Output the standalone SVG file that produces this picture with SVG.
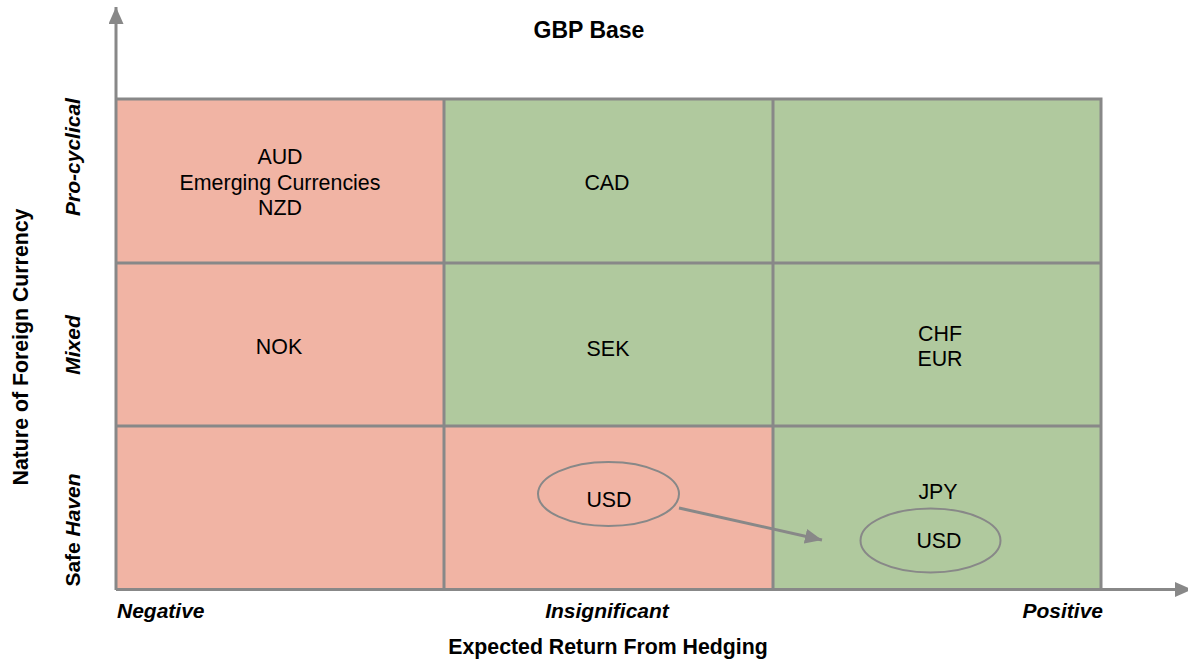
<svg xmlns="http://www.w3.org/2000/svg" width="1188" height="665" viewBox="0 0 1188 665">
  <style>
    text { font-family: "Liberation Sans", Arial, sans-serif; fill: #000; }
    .cell-text { font-size: 21.4px; text-anchor: middle; }
    .title { font-size: 23px; font-weight: bold; text-anchor: middle; }
    .axis-title { font-size: 21.3px; font-weight: bold; text-anchor: middle; }
    .tick { font-size: 21px; font-weight: bold; font-style: italic; }
    .neg { fill: #f1b4a4; }
    .pos { fill: #b0c99e; }
    .grid { stroke: #888888; stroke-width: 3; fill: none; }
    .axis { stroke: #888888; stroke-width: 3; fill: none; }
    .oval { fill: none; stroke: #888888; stroke-width: 2; }
    .link { stroke: #888888; stroke-width: 3; fill: none; }
  </style>
  <defs>
    <marker id="head" markerUnits="userSpaceOnUse" markerWidth="17" markerHeight="15" refX="17" refY="7.5" orient="auto">
      <path d="M0,0 L17,7.5 L0,15 z" fill="#888888"/>
    </marker>
  </defs>

  <rect width="1188" height="665" fill="#ffffff"/>

  <!-- matrix cells: rows Pro-cyclical / Mixed / Safe Haven, columns Negative / Insignificant / Positive -->
  <g id="cell-pro-neg"><rect class="neg" x="116" y="99" width="328" height="164"/>
    <text class="cell-text" x="280" y="164">AUD</text>
    <text class="cell-text" x="280" y="190">Emerging Currencies</text>
    <text class="cell-text" x="280" y="215">NZD</text>
  </g>
  <g id="cell-pro-ins"><rect class="pos" x="444" y="99" width="329" height="164"/>
    <text class="cell-text" x="607" y="190">CAD</text>
  </g>
  <g id="cell-pro-pos"><rect class="pos" x="773" y="99" width="328" height="164"/></g>

  <g id="cell-mix-neg"><rect class="neg" x="116" y="263" width="328" height="163"/>
    <text class="cell-text" x="279" y="354">NOK</text>
  </g>
  <g id="cell-mix-ins"><rect class="pos" x="444" y="263" width="329" height="163"/>
    <text class="cell-text" x="608" y="356">SEK</text>
  </g>
  <g id="cell-mix-pos"><rect class="pos" x="773" y="263" width="328" height="163"/>
    <text class="cell-text" x="940" y="341">CHF</text>
    <text class="cell-text" x="940" y="366">EUR</text>
  </g>

  <g id="cell-safe-neg"><rect class="neg" x="116" y="426" width="328" height="163"/></g>
  <g id="cell-safe-ins"><rect class="neg" x="444" y="426" width="329" height="163"/></g>
  <g id="cell-safe-pos"><rect class="pos" x="773" y="426" width="328" height="163"/>
    <text class="cell-text" x="938" y="499">JPY</text>
  </g>

  <!-- grid lines -->
  <g id="grid">
    <path class="grid" d="M116,99 H1101 V589 M116,263 H1101 M116,426 H1101 M444,99 V589 M773,99 V589"/>
  </g>

  <!-- USD positions -->
  <g id="usd-now">
    <ellipse class="oval" cx="608.5" cy="494" rx="70.5" ry="32"/>
    <text class="cell-text" x="609" y="507">USD</text>
  </g>
  <g id="usd-later">
    <ellipse class="oval" cx="930.5" cy="540.5" rx="70" ry="32"/>
    <text class="cell-text" x="939" y="548">USD</text>
  </g>

  <!-- axes and connector -->
  <g id="connectors">
    <line class="axis" x1="116" y1="590" x2="116" y2="7" marker-end="url(#head)"/>
    <line class="axis" x1="116" y1="589.5" x2="1192" y2="589.5" marker-end="url(#head)"/>
    <line class="link" x1="679" y1="508" x2="822" y2="540" marker-end="url(#head)"/>
  </g>

  <!-- labels -->
  <g id="labels">
    <text class="title" x="589" y="38">GBP Base</text>
    <text class="tick" x="117" y="618">Negative</text>
    <text class="tick" x="607" y="618" text-anchor="middle">Insignificant</text>
    <text class="tick" x="1103" y="618" text-anchor="end">Positive</text>
    <text class="axis-title" x="608" y="654">Expected Return From Hedging</text>
    <text class="axis-title" transform="translate(28,347) rotate(-90)">Nature of Foreign Currency</text>
    <text class="tick" text-anchor="middle" transform="translate(80,157) rotate(-90)">Pro-cyclical</text>
    <text class="tick" text-anchor="middle" transform="translate(80,345) rotate(-90)">Mixed</text>
    <text class="tick" text-anchor="middle" transform="translate(80,530) rotate(-90)"><tspan font-style="normal">Safe</tspan> Haven</text>
  </g>
</svg>
